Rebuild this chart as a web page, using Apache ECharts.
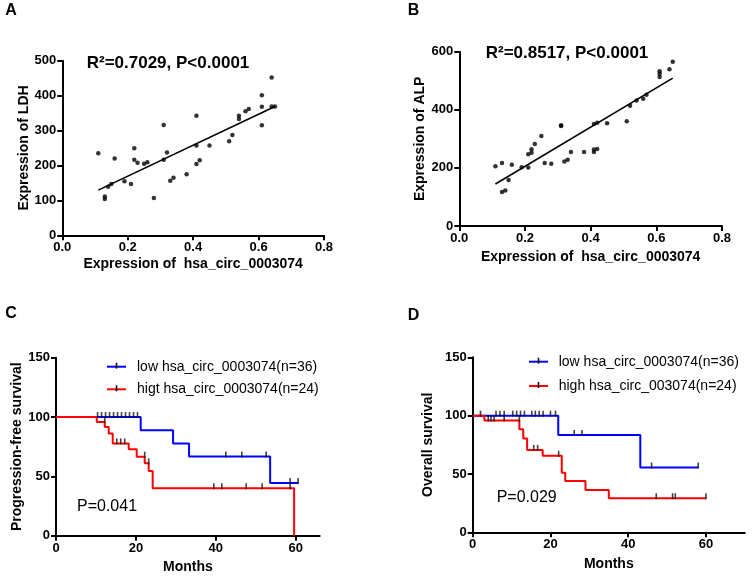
<!DOCTYPE html>
<html>
<head>
<meta charset="utf-8">
<script src="https://cdn.jsdelivr.net/npm/echarts@6/dist/echarts.min.js"></script>
<style>html,body{margin:0;padding:0;background:#fff;}#chart{width:753px;height:576px;}</style>
</head>
<body>
<div id="chart"></div>
<script>
// ---------- Panel A: circ vs LDH ----------
const aX = [0.11,0.13,0.13,0.14,0.15,0.16,0.19,0.21,0.22,0.22,0.23,0.25,0.26,0.28,0.31,0.31,0.32,0.33,0.34,0.38,0.41,0.41,0.41,0.42,0.45,0.51,0.52,0.54,0.54,0.56,0.57,0.61,0.61,0.61,0.64,0.64,0.65];
const aY = [235,111,104,139,147,220,155,147,249,216,208,205,209,107,316,216,237,156,165,175,342,257,204,215,257,269,287,342,333,355,362,401,368,315,452,369,369];
const aFit = {slope: 443.6, intercept: 80.5, from: 0.11, to: 0.65};
// ---------- Panel B: circ vs ALP ----------
const bX = [0.11,0.13,0.13,0.14,0.15,0.16,0.19,0.21,0.21,0.22,0.22,0.23,0.25,0.26,0.28,0.31,0.31,0.32,0.33,0.34,0.38,0.41,0.41,0.42,0.41,0.42,0.45,0.51,0.52,0.54,0.56,0.57,0.61,0.61,0.61,0.64,0.65];
const bY = [206,217,117,122,158,211,202,201,247,264,252,282,310,217,214,344,347,222,228,255,255,255,263,265,351,355,354,361,414,432,438,452,533,524,513,540,565];
const bFit = {slope: 674.8, intercept: 70.4, from: 0.11, to: 0.65};
// ---------- Panel C: progression-free survival ----------
const cLowT = [0,21.2,29.3,33.3,53.6,60.6];
const cLowS = [100,88.9,77.8,66.7,44.4,44.4];
const cLowCensT = [10.4,11.4,12.4,13.4,14.4,15.4,16.4,17.4,18.4,19.4,20.4,42.5,46.5,52.6,58.6,60.6];
const cLowCensS = [100,100,100,100,100,100,100,100,100,100,100,66.7,66.7,66.7,44.4,44.4];
const cHighT = [0,10.2,12.2,13.2,14.2,18.2,20.2,22.2,23.2,24.2,59.6];
const cHighS = [100,95.8,91.7,86.2,77.8,72.8,66.6,61,54.5,40,0];
const cHighCensT = [12.2,15.2,16.2,17.2,22.2,23.2,39.5,41.5,47.6,51.6,58.6];
const cHighCensS = [95.8,77.8,77.8,77.8,66.6,61,40,40,40,40,40];
// ---------- Panel D: overall survival ----------
const dLowT = [0,22,43.1,58];
const dLowS = [100,83.3,55.5,55.5];
const dLowCensT = [2,6,7,8.1,10.3,11.3,12.3,13.3,15.2,16.1,17.1,18.1,20,21.3,26.1,28.1,46,58];
const dLowCensS = [100,100,100,100,100,100,100,100,100,100,100,100,100,100,83.3,83.3,55.5,55.5];
const dHighT = [0,3,12,13,14,18,22.9,23.8,29,35,60];
const dHighS = [100,95.8,88.3,80.3,70.6,65.6,51,44,36.3,29.2,29.2];
const dHighCensT = [4,4.7,5.5,8.1,12,15.7,16.7,22.1,47.2,51.4,52.1,60];
const dHighCensS = [95.8,95.8,95.8,95.8,95.8,70.6,70.6,65.6,29.2,29.2,29.2,29.2];
const monthTicks = [0,20,40,60];

const labels = {
  aTitleX: 'Expression of  hsa_circ_0003074', aTitleY: 'Expression of LDH',
  bTitleX: 'Expression of  hsa_circ_0003074', bTitleY: 'Expression of ALP',
  aStat: 'R\u00b2=0.7029, P<0.0001', bStat: 'R\u00b2=0.8517, P<0.0001',
  cTitleY: 'Progression-free survival', dTitleY: 'Overall survival', months: 'Months',
  cLow: 'low hsa_circ_0003074(n=36)', cHigh: 'higt hsa_circ_0003074(n=24)',
  dLow: 'low hsa_circ_0003074(n=36)', dHigh: 'high hsa_circ_003074(n=24)',
  cP: 'P=0.041', dP: 'P=0.029'
};

const FONT = '"Liberation Sans", Arial, Helvetica, sans-serif';
const zip = (x, y) => x.map((v, i) => [v, y[i]]);
const fitLine = f => [[f.from, f.slope*f.from + f.intercept], [f.to, f.slope*f.to + f.intercept]];

function axis(idx, opts, labelExtra, tickExtra) {
  return Object.assign({
    gridIndex: idx,
    type: 'value',
    axisLine: {show: true, onZero: false, lineStyle: {color: '#000', width: 2}},
    axisTick: Object.assign({show: true, length: 5, lineStyle: {color: '#000', width: 2}}, tickExtra || {}),
    axisLabel: Object.assign({color: '#000', fontWeight: 'bold', fontSize: 13, fontFamily: FONT, margin: 6}, labelExtra || {}),
    splitLine: {show: false},
    nameLocation: 'middle',
    nameTextStyle: {color: '#000', fontWeight: 'bold', fontSize: 14, fontFamily: FONT}
  }, opts);
}

const chart = echarts.init(document.getElementById('chart'), null, {renderer: 'canvas'});

const tickSym = {type: 'scatter', symbol: 'rect', symbolSize: [1.6, 6], symbolOffset: [0, -2],
  itemStyle: {color: '#111'}, z: 5, silent: true};

function txt(x, y, text, font, align) {
  return {type: 'text', x: x, y: y, silent: true,
    style: {text: text, font: font, fill: '#000', align: align || 'center', verticalAlign: 'middle'}};
}
function legendItem(x1, x2, y, color, textX, text) {
  return [
    {type: 'line', silent: true, shape: {x1: x1, y1: y, x2: x2, y2: y}, style: {stroke: color, lineWidth: 2}},
    {type: 'rect', silent: true, shape: {x: (x1 + x2)/2 - 0.8, y: y - 4, width: 1.6, height: 6}, style: {fill: '#111'}},
    txt(textX, y, text, '14px ' + FONT, 'left')
  ];
}

const fmt1 = {formatter: v => v.toFixed(1)};
const option = {
  animation: false,
  backgroundColor: '#fff',
  grid: [
    {left: 62.3, top: 60.7, width: 261.7, height: 174.6, containLabel: false, outerBoundsMode: 'none'},
    {left: 459.3, top: 51.7, width: 262.7, height: 174.3, containLabel: false, outerBoundsMode: 'none'},
    {left: 56, top: 357.7, width: 263.7, height: 178, containLabel: false, outerBoundsMode: 'none'},
    {left: 472.7, top: 357.3, width: 272.2, height: 175, containLabel: false, outerBoundsMode: 'none'}
  ],
  xAxis: [
    axis(0, {min: 0, max: 0.8, interval: 0.2, name: labels.aTitleX, nameGap: 22}, fmt1),
    axis(1, {min: 0, max: 0.8, interval: 0.2, name: labels.bTitleX, nameGap: 24}, fmt1),
    axis(2, {min: 0, max: 66, interval: 20, name: labels.months, nameGap: 24},
      {customValues: monthTicks}, {customValues: monthTicks}),
    axis(3, {min: 0, max: 70, interval: 20, name: labels.months, nameGap: 25},
      {customValues: monthTicks}, {customValues: monthTicks})
  ],
  yAxis: [
    axis(0, {min: 0, max: 500, interval: 100, name: labels.aTitleY, nameGap: 30}),
    axis(1, {min: 0, max: 600, interval: 200, name: labels.bTitleY, nameGap: 32}),
    axis(2, {min: 0, max: 150, interval: 50, name: labels.cTitleY, nameGap: 32}),
    axis(3, {min: 0, max: 150, interval: 50, name: labels.dTitleY, nameGap: 38})
  ],
  series: [
    {type: 'scatter', xAxisIndex: 0, yAxisIndex: 0, data: zip(aX, aY), symbolSize: 4.5, itemStyle: {color: '#000'}},
    {type: 'line', xAxisIndex: 0, yAxisIndex: 0, data: fitLine(aFit), symbol: 'none', lineStyle: {color: '#000', width: 1.6}},
    {type: 'scatter', xAxisIndex: 1, yAxisIndex: 1, data: zip(bX, bY), symbolSize: 4.5, itemStyle: {color: '#000'}},
    {type: 'line', xAxisIndex: 1, yAxisIndex: 1, data: fitLine(bFit), symbol: 'none', lineStyle: {color: '#000', width: 1.6}},

    {name: labels.cLow, type: 'line', step: 'end', xAxisIndex: 2, yAxisIndex: 2, data: zip(cLowT, cLowS), symbol: 'none', lineStyle: {color: '#0000ff', width: 2}, z: 2},
    {name: labels.cHigh, type: 'line', step: 'end', xAxisIndex: 2, yAxisIndex: 2, data: zip(cHighT, cHighS), symbol: 'none', lineStyle: {color: '#ff0000', width: 2}, z: 3},
    Object.assign({xAxisIndex: 2, yAxisIndex: 2, data: zip(cLowCensT, cLowCensS)}, tickSym),
    Object.assign({xAxisIndex: 2, yAxisIndex: 2, data: zip(cHighCensT, cHighCensS)}, tickSym),

    {name: labels.dLow, type: 'line', step: 'end', xAxisIndex: 3, yAxisIndex: 3, data: zip(dLowT, dLowS), symbol: 'none', lineStyle: {color: '#0000ff', width: 2}, z: 2},
    {name: labels.dHigh, type: 'line', step: 'end', xAxisIndex: 3, yAxisIndex: 3, data: zip(dHighT, dHighS), symbol: 'none', lineStyle: {color: '#ff0000', width: 2}, z: 3},
    Object.assign({xAxisIndex: 3, yAxisIndex: 3, data: zip(dLowCensT, dLowCensS)}, tickSym),
    Object.assign({xAxisIndex: 3, yAxisIndex: 3, data: zip(dHighCensT, dHighCensS)}, tickSym)
  ],
  graphic: [
    txt(11, 11, 'A', 'bold 16px ' + FONT),
    txt(413.5, 11, 'B', 'bold 16px ' + FONT),
    txt(11, 313.5, 'C', 'bold 16px ' + FONT),
    txt(413.5, 316, 'D', 'bold 16px ' + FONT),
    txt(168, 63, labels.aStat, 'bold 17px ' + FONT),
    txt(567, 53, labels.bStat, 'bold 17px ' + FONT),
    txt(77, 506.7, labels.cP, '16px ' + FONT, 'left'),
    txt(496.7, 497.3, labels.dP, '16px ' + FONT, 'left')
  ]
    .concat(legendItem(107, 126, 366.7, '#0000ff', 137, labels.cLow))
    .concat(legendItem(107, 126, 389.3, '#ff0000', 137, labels.cHigh))
    .concat(legendItem(529, 548, 361.7, '#0000ff', 558.7, labels.dLow))
    .concat(legendItem(529, 548, 386, '#ff0000', 558.7, labels.dHigh))
};
chart.setOption(option);
</script>
</body>
</html>
